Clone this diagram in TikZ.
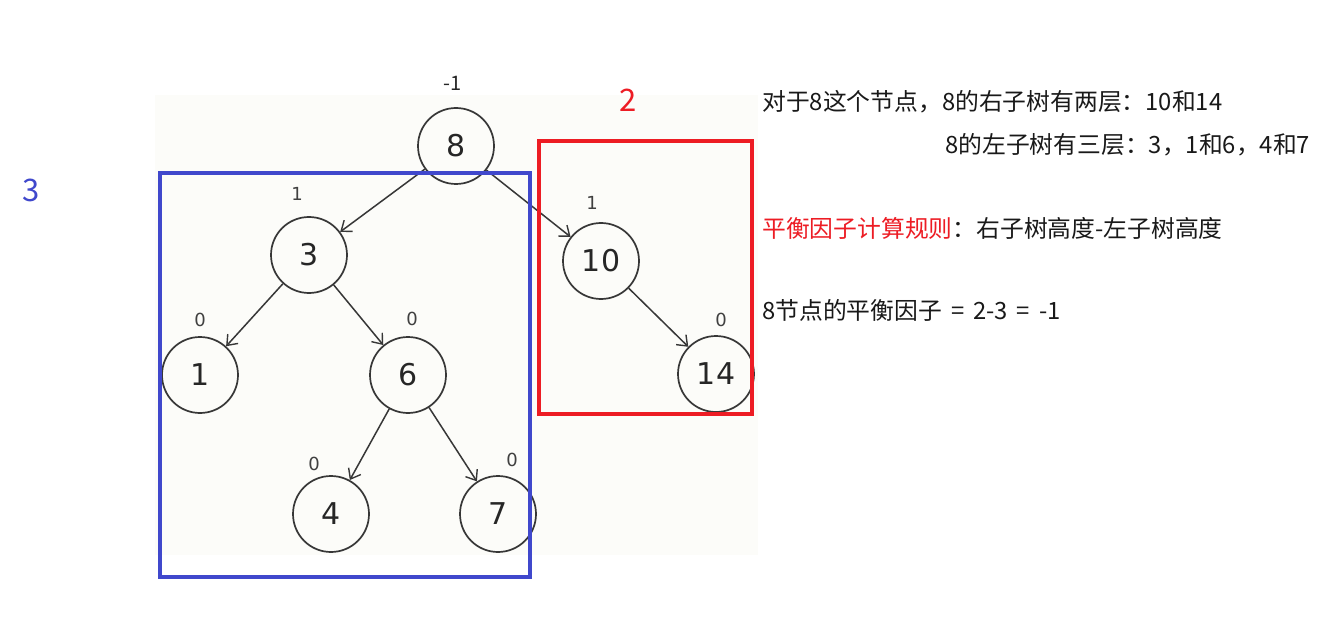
\documentclass[tikz,border=0pt]{standalone}
\usepackage{fontspec}
\setmainfont{Noto Sans CJK SC}
\newfontfamily\dvs{DejaVu Sans}
\usetikzlibrary{arrows.meta}
\definecolor{boxblue}{RGB}{64,72,204}
\definecolor{boxred}{RGB}{237,28,36}
\definecolor{inkgray}{RGB}{55,55,55}
\definecolor{paper}{RGB}{252,252,249}
\begin{document}
\begin{tikzpicture}[x=1pt,y=-1pt,
  tnode/.style={circle,draw=inkgray,line width=1.7pt,minimum size=76pt,inner sep=0pt,
    font=\dvs\fontsize{30}{31}\selectfont,text=black!85},
  bal/.style={font=\dvs\fontsize{18}{20}\selectfont,text=black!75,inner sep=0pt},
  edge/.style={draw=inkgray,line width=1.5pt,-{Straight Barb[length=9pt,width=14pt,line width=1.4pt]}},
  note/.style={anchor=west,inner sep=0pt,font=\fontsize{23.8}{26}\selectfont,text=black!90},
  frame/.style={line width=4.5pt}
]
\useasboundingbox (0,0) rectangle (1344,631);
\fill[white] (0,0) rectangle (1344,631);
\fill[paper] (155,95) rectangle (758,555);

% tree nodes
\node[tnode] (n8) at (456,146) {8};
\node[tnode] (n3) at (309,255) {3};
\node[tnode] (n1) at (200,375) {1};
\node[tnode] (n6) at (408,375) {6};
\node[tnode] (n4) at (331,514) {4};
\node[tnode] (n7) at (498,514) {7};
\node[tnode] (n10) at (601,261) {10};
\node[tnode] (n14) at (716,374) {14};

% balance factors
\node[inner sep=0pt,font=\fontsize{20}{22}\selectfont,text=black!85] (b8) at (453,83) {-1};
\node[bal] (b3) at (297,194) {1};
\node[bal] (b1) at (200,320) {0};
\node[bal] (b6) at (412,319) {0};
\node[bal] (b4) at (314,464) {0};
\node[bal] (b7) at (512,460) {0};
\node[bal] (b10) at (592,203) {1};
\node[bal] (b14) at (721,320) {0};

% edges
\draw[edge] (n8) -- (n3);
\draw[edge] (n8) -- (n10);
\draw[edge] (n3) -- (n1);
\draw[edge] (n3) -- (n6);
\draw[edge] (n6) -- (n4);
\draw[edge] (n6) -- (n7);
\draw[edge] (n10) -- (n14);

% frames
\draw[frame,boxblue] (160,173) rectangle (530,577);
\draw[frame,boxred] (539,141) rectangle (752,414);
\node[inner sep=0pt,font=\fontsize{31}{34}\selectfont,text=boxblue] (h3) at (31,190) {3};
\node[inner sep=0pt,font=\fontsize{31}{34}\selectfont,text=boxred] (h2) at (628,100) {2};

% notes
\node[note] (t1) at (762,102) {对于8这个节点，8的右子树有两层：10和14};
\node[note] (t2) at (945,145) {8的左子树有三层：3，1和6，4和7};
\node[note] (t3) at (762,228) {\textcolor{boxred}{平衡因子计算规则}：右子树高度-左子树高度};
\node[note] (t4) at (762,310) {8节点的平衡因子\kern9pt=\kern9pt2-3\kern9pt=\kern9pt-1};
\end{tikzpicture}
\end{document}
